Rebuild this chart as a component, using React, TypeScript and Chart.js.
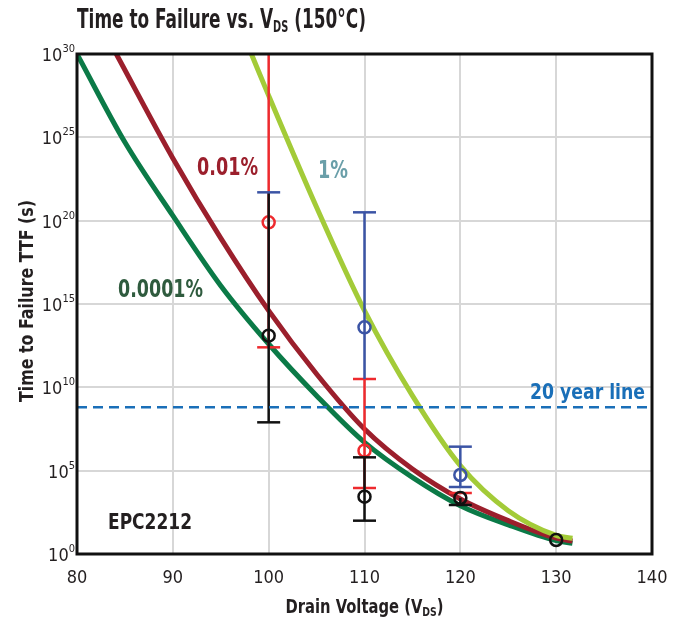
import React, { useEffect, useRef } from "react";
import { Chart, registerables } from "chart.js";

Chart.register(...registerables);

// Axis ticks
const voltageTicks = [80, 90, 100, 110, 120, 130, 140];
const decadeTicks = [0, 5, 10, 15, 20, 25, 30];

// Model curves: log10(TTF in seconds) versus drain voltage (V)
const fitVolts0001 = [80, 85, 90, 95, 100, 105, 110, 115, 120, 125, 130, 131.7];
const fitLog0001 = [30, 24.7, 20.3, 16.1, 12.6, 9.5, 6.7, 4.6, 2.9, 1.75, 0.8, 0.64];
const fitVolts001 = [84.1, 90, 95, 100, 105, 110, 115, 120, 125, 130, 131.7];
const fitLog001 = [30, 23.75, 18.95, 14.6, 10.8, 7.5, 5.1, 3.3, 2.0, 0.95, 0.78];
const fitVolts1 = [98.2, 100, 105, 110, 115, 120, 125, 130, 131.7];
const fitLog1 = [30, 27.5, 20.8, 14.6, 9.5, 5.3, 2.6, 1.12, 0.95];

// Measured results (log10 seconds): red = 0.01 %, black = 0.0001 %, blue = 1 %
const redPointV = [100, 110];
const redPointLog = [19.9, 6.2];
const redBarV = [100, 110];
const redBarLo = [12.4, 3.96];
const redBarHi = [31, 10.5];
const redCapV = [100, 110, 110, 120];
const redCapLog = [12.4, 10.5, 3.96, 3.66];

const blackPointV = [100, 110, 120, 130];
const blackPointLog = [13.1, 3.44, 3.36, 0.84];
const blackBarV = [100, 110, 120];
const blackBarLo = [7.9, 2.0, 2.94];
const blackBarHi = [21.7, 5.8, 3.36];
const blackCapV = [100, 110, 110, 120];
const blackCapLog = [7.9, 5.8, 2.0, 2.94];

const bluePointV = [110, 120];
const bluePointLog = [13.6, 4.74];
const blueBarV = [110, 120];
const blueBarLo = [10.5, 4.02];
const blueBarHi = [20.5, 6.44];
const blueCapV = [100, 110, 120, 120];
const blueCapLog = [21.7, 20.5, 6.44, 4.02];

// 20 years expressed in seconds
const twentyYearSeconds = 6.31e8;

const FONT = "'Liberation Sans Narrow', 'DejaVu Sans Condensed', 'Liberation Sans', sans-serif";

const C_GREEN = "#0b7a47";
const C_DARKRED = "#9b1f2c";
const C_LIME = "#a3cb38";
const C_RED = "#ee2a2e";
const C_BLACK = "#111111";
const C_BLUE = "#3b54a5";
const C_DASH = "#1a6fb8";

type Part = { text: string; size: number; dy?: number };

function drawRich(
  ctx: CanvasRenderingContext2D,
  parts: Part[],
  x: number,
  baseline: number,
  align: "left" | "center" | "right",
  weight: string,
  color: string,
  width?: number
) {
  const segs = parts.map((p) => {
    ctx.font = `${weight} ${p.size}px ${FONT}`;
    return { ...p, w: ctx.measureText(p.text).width };
  });
  const natural = segs.reduce((a, s) => a + s.w, 0);
  const sx = width ? width / natural : 1;
  const total = natural * sx;
  const start = align === "left" ? x : align === "center" ? x - total / 2 : x - total;
  ctx.save();
  ctx.translate(start, baseline);
  ctx.scale(sx, 1);
  ctx.fillStyle = color;
  ctx.textAlign = "left";
  ctx.textBaseline = "alphabetic";
  let cx = 0;
  for (const s of segs) {
    ctx.font = `${weight} ${s.size}px ${FONT}`;
    ctx.fillText(s.text, cx, s.dy || 0);
    cx += s.w;
  }
  ctx.restore();
}

const pairs = (xs: number[], logs: number[]) => xs.map((x, i) => ({ x, y: 10 ** logs[i] }));

const whiskers = (xs: number[], lo: number[], hi: number[]) => {
  const out: { x: number; y: number | null }[] = [];
  xs.forEach((x, i) => {
    out.push({ x, y: 10 ** lo[i] }, { x, y: 10 ** hi[i] }, { x, y: null });
  });
  return out;
};

const curve = (xs: number[], logs: number[], color: string, order: number) => ({
  type: "line" as const,
  data: pairs(xs, logs),
  borderColor: color,
  borderWidth: 5,
  pointRadius: 0,
  cubicInterpolationMode: "monotone" as const,
  fill: false,
  order,
});

const bars = (xs: number[], lo: number[], hi: number[], color: string, order: number) => ({
  type: "line" as const,
  data: whiskers(xs, lo, hi),
  borderColor: color,
  borderWidth: 2.5,
  pointRadius: 0,
  spanGaps: false,
  fill: false,
  order,
});

const caps = (xs: number[], logs: number[], color: string, order: number) => ({
  type: "scatter" as const,
  data: pairs(xs, logs),
  showLine: false,
  pointStyle: "line" as const,
  pointRadius: 11.5,
  pointBorderWidth: 2.5,
  borderColor: color,
  pointBorderColor: color,
  order,
});

const circles = (xs: number[], logs: number[], color: string, order: number) => ({
  type: "scatter" as const,
  data: pairs(xs, logs),
  showLine: false,
  pointStyle: "circle" as const,
  pointRadius: 6,
  pointBorderWidth: 2.5,
  pointBackgroundColor: "rgba(0,0,0,0)",
  pointBorderColor: color,
  borderColor: color,
  order,
});

const overlay = {
  id: "overlay",
  afterDraw(chart: any) {
    const ctx: CanvasRenderingContext2D = chart.ctx;
    const { left, top, right, bottom } = chart.chartArea;
    const xs = chart.scales.x;
    const ys = chart.scales.y;

    // plot frame
    ctx.save();
    ctx.strokeStyle = "#111";
    ctx.lineWidth = 3;
    ctx.strokeRect(left, top, right - left, bottom - top);
    ctx.restore();

    // x tick labels
    for (const v of voltageTicks) {
      drawRich(ctx, [{ text: String(v), size: 18 }], xs.getPixelForValue(v), bottom + 29, "center", "normal", "#231f20");
    }
    // y tick labels: 10 with exponent
    for (const e of decadeTicks) {
      const py = ys.getPixelForValue(10 ** e);
      drawRich(
        ctx,
        [
          { text: "10", size: 18 },
          { text: String(e), size: 11, dy: -9 },
        ],
        left - 2,
        py + 7,
        "right",
        "normal",
        "#231f20"
      );
    }

    // title
    drawRich(
      ctx,
      [
        { text: "Time to Failure vs. V", size: 26 },
        { text: "DS", size: 15, dy: 4 },
        { text: " (150°C)", size: 26 },
      ],
      77,
      28,
      "left",
      "bold",
      "#231f20",
      289
    );

    // x axis title
    drawRich(
      ctx,
      [
        { text: "Drain Voltage (V", size: 19 },
        { text: "DS", size: 12, dy: 3 },
        { text: ")", size: 19 },
      ],
      (left + right) / 2,
      613,
      "center",
      "bold",
      "#231f20",
      158
    );

    // y axis title
    ctx.save();
    ctx.translate(33, 301);
    ctx.rotate(-Math.PI / 2);
    drawRich(ctx, [{ text: "Time to Failure TTF (s)", size: 19 }], 0, 0, "center", "bold", "#231f20", 202);
    ctx.restore();

    // annotations
    drawRich(ctx, [{ text: "0.01%", size: 24 }], 197, 175, "left", "bold", C_DARKRED, 61);
    drawRich(ctx, [{ text: "1%", size: 24 }], 318, 178, "left", "bold", "#6a9fa9", 30);
    drawRich(ctx, [{ text: "0.0001%", size: 24 }], 118, 297, "left", "bold", "#2f5b3e", 85);
    drawRich(ctx, [{ text: "20 year line", size: 21 }], 645, 399, "right", "bold", C_DASH, 115);
    drawRich(ctx, [{ text: "EPC2212", size: 22 }], 108, 529, "left", "bold", "#231f20", 84);
  },
};

export default function App() {
  const ref = useRef<HTMLCanvasElement>(null);

  useEffect(() => {
    document.body.style.margin = "0";
    const chart = new Chart(ref.current!, {
      type: "line",
      data: {
        datasets: [
          {
            type: "line",
            data: [
              { x: 80, y: twentyYearSeconds },
              { x: 140, y: twentyYearSeconds },
            ],
            borderColor: C_DASH,
            borderWidth: 2.5,
            borderDash: [10, 6],
            pointRadius: 0,
            fill: false,
            order: 0,
          },
          circles(bluePointV, bluePointLog, C_BLUE, 1),
          caps(blueCapV, blueCapLog, C_BLUE, 1),
          bars(blueBarV, blueBarLo, blueBarHi, C_BLUE, 1),
          circles(blackPointV, blackPointLog, C_BLACK, 2),
          caps(blackCapV, blackCapLog, C_BLACK, 2),
          bars(blackBarV, blackBarLo, blackBarHi, C_BLACK, 2),
          circles(redPointV, redPointLog, C_RED, 3),
          caps(redCapV, redCapLog, C_RED, 3),
          bars(redBarV, redBarLo, redBarHi, C_RED, 3),
          curve(fitVolts1, fitLog1, C_LIME, 4),
          curve(fitVolts001, fitLog001, C_DARKRED, 5),
          curve(fitVolts0001, fitLog0001, C_GREEN, 6),
        ] as any,
      },
      options: {
        responsive: false,
        animation: false,
        events: [],
        layout: { padding: { top: 54, right: 32, left: 0, bottom: 0 } },
        plugins: { legend: { display: false }, tooltip: { enabled: false } },
        scales: {
          x: {
            type: "linear",
            min: 80,
            max: 140,
            afterBuildTicks: (s: any) => {
              s.ticks = voltageTicks.map((v) => ({ value: v }));
            },
            ticks: { display: false },
            grid: { color: "#d7d7d7", lineWidth: 2, drawTicks: false },
            border: { display: false },
            afterFit: (s: any) => {
              s.height = 68;
            },
          },
          y: {
            type: "logarithmic",
            min: 1,
            max: 1e30,
            afterBuildTicks: (s: any) => {
              s.ticks = decadeTicks.map((e) => ({ value: 10 ** e }));
            },
            ticks: { display: false },
            grid: { color: "#d7d7d7", lineWidth: 2, drawTicks: false },
            border: { display: false },
            afterFit: (s: any) => {
              s.width = 77;
            },
          },
        },
      } as any,
      plugins: [overlay],
    });
    return () => chart.destroy();
  }, []);

  return (
    <div style={{ width: 684, height: 622 }}>
      <canvas ref={ref} width={684} height={622} style={{ display: "block", width: 684, height: 622 }} />
    </div>
  );
}
